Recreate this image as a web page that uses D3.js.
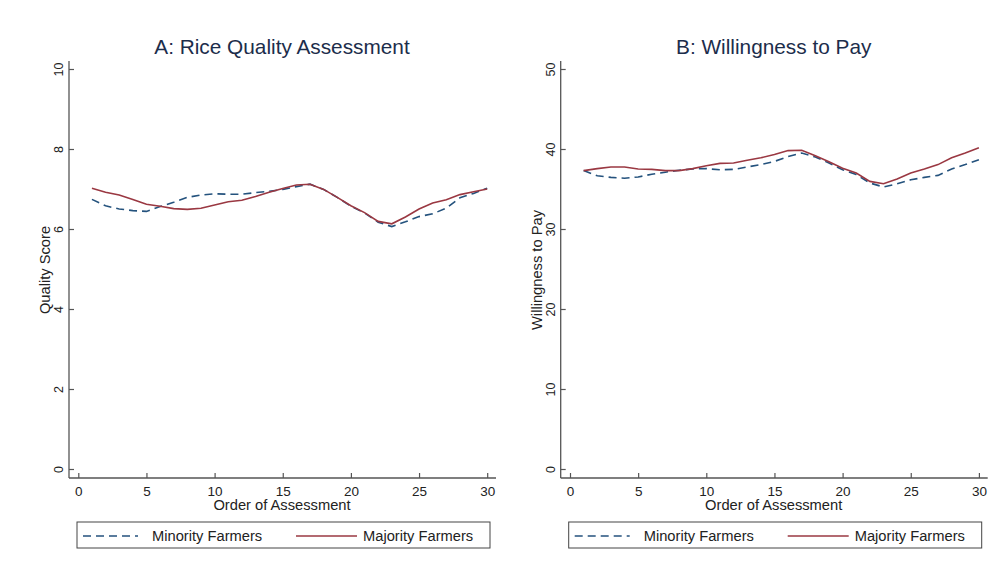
<!DOCTYPE html>
<html>
<head>
<meta charset="utf-8">
<script src="https://cdn.jsdelivr.net/npm/d3@7"></script>
<style>
  body { margin: 0; background: #fff; }
  svg { font-family: "Liberation Sans", Arial, sans-serif; }
</style>
</head>
<body>
<svg id="chart" width="1003" height="579"></svg>
<script>
// Order of assessment (1..30)
const order = d3.range(1, 31);

// Panel A: quality score
const qualityMinority = [6.74, 6.58, 6.50, 6.46, 6.44, 6.56, 6.67, 6.79, 6.85, 6.88,
  6.87, 6.87, 6.91, 6.94, 6.99, 7.06, 7.12, 6.99, 6.79, 6.57,
  6.40, 6.17, 6.06, 6.18, 6.31, 6.38, 6.52, 6.78, 6.89, 7.02];
const qualityMajority = [7.02, 6.92, 6.85, 6.74, 6.62, 6.57, 6.51, 6.49, 6.52, 6.60,
  6.68, 6.72, 6.81, 6.92, 7.01, 7.10, 7.12, 6.99, 6.79, 6.58,
  6.41, 6.19, 6.13, 6.30, 6.50, 6.65, 6.73, 6.86, 6.93, 7.00];

// Panel B: willingness to pay
const wtpMinority = [37.3, 36.65, 36.45, 36.35, 36.5, 36.85, 37.1, 37.35, 37.5, 37.55,
  37.4, 37.45, 37.75, 38.05, 38.45, 39.05, 39.5, 39.0, 38.25, 37.4,
  36.8, 35.75, 35.25, 35.65, 36.15, 36.45, 36.7, 37.5, 38.05, 38.65];
const wtpMajority = [37.3, 37.55, 37.75, 37.75, 37.5, 37.45, 37.3, 37.3, 37.55, 37.9,
  38.2, 38.25, 38.6, 38.9, 39.3, 39.8, 39.85, 39.15, 38.4, 37.6,
  37.0, 35.95, 35.65, 36.25, 37.0, 37.5, 38.05, 38.9, 39.5, 40.15];

const xTicks = [0, 5, 10, 15, 20, 25, 30];
const qualityTicks = [0, 2, 4, 6, 8, 10];
const wtpTicks = [0, 10, 20, 30, 40, 50];
const seriesNames = ["Minority Farmers", "Majority Farmers"];

const colMinority = "#24527d";
const colMajority = "#9a3842";
const titleColor = "#1c2d4b";
const axisColor = "#555";

const svg = d3.select("#chart");

function drawPanel(offsetX, title, yLabel, yMax, yTicks, minority, majority) {
  const g = svg.append("g").attr("transform", `translate(${offsetX},0)`);

  const x = d3.scaleLinear().domain([0, 30]).range([78.3, 487.2]);
  const y = d3.scaleLinear().domain([0, yMax]).range([469, 69]);

  // axis lines (offset from plot region like Stata)
  g.append("line")
    .attr("x1", 69).attr("x2", 69).attr("y1", 61).attr("y2", 478)
    .attr("stroke", axisColor).attr("stroke-width", 1.3);
  g.append("line")
    .attr("x1", 69).attr("x2", 496).attr("y1", 478).attr("y2", 478)
    .attr("stroke", axisColor).attr("stroke-width", 1.3);

  // y axis ticks, rotated labels
  const yAxis = g.append("g")
    .attr("transform", "translate(69,0)")
    .call(d3.axisLeft(y).tickValues(yTicks).tickSize(-5).tickPadding(6));
  yAxis.select(".domain").remove();
  yAxis.selectAll(".tick line").attr("stroke", axisColor).attr("stroke-width", 1.2);
  yAxis.selectAll(".tick text")
    .attr("x", null).attr("dy", null)
    .attr("transform", "translate(-6,0) rotate(-90)")
    .attr("text-anchor", "middle")
    .attr("fill", "#222")
    .style("font-size", "12.5px");

  // x axis ticks
  const xAxis = g.append("g")
    .attr("transform", "translate(0,478)")
    .call(d3.axisBottom(x).tickValues(xTicks).tickSize(-5).tickPadding(8));
  xAxis.select(".domain").remove();
  xAxis.selectAll(".tick line").attr("stroke", axisColor).attr("stroke-width", 1.2);
  xAxis.selectAll(".tick text")
    .attr("fill", "#222")
    .style("font-size", "13.5px");

  // titles
  g.append("text")
    .attr("x", 282).attr("y", 54)
    .attr("text-anchor", "middle")
    .attr("fill", titleColor)
    .style("font-size", "20.8px")
    .text(title);

  g.append("text")
    .attr("x", 282).attr("y", 510)
    .attr("text-anchor", "middle")
    .attr("fill", "#222")
    .style("font-size", "14.7px")
    .text("Order of Assessment");

  g.append("text")
    .attr("transform", "translate(50,270) rotate(-90)")
    .attr("text-anchor", "middle")
    .attr("fill", "#222")
    .style("font-size", "14.7px")
    .text(yLabel);

  // lines
  const line = d3.line().x((d, i) => x(order[i])).y(d => y(d));

  g.append("path")
    .datum(minority)
    .attr("d", line)
    .attr("fill", "none")
    .attr("stroke", colMinority)
    .attr("stroke-width", 1.6)
    .attr("stroke-dasharray", "8,5");

  g.append("path")
    .datum(majority)
    .attr("d", line)
    .attr("fill", "none")
    .attr("stroke", colMajority)
    .attr("stroke-width", 1.6);

  // legend
  const lg = g.append("g");
  lg.append("rect")
    .attr("x", 77).attr("y", 522).attr("width", 413).attr("height", 26)
    .attr("fill", "#fff").attr("stroke", "#444").attr("stroke-width", 1);

  lg.append("line")
    .attr("x1", 83).attr("x2", 138).attr("y1", 536).attr("y2", 536)
    .attr("stroke", colMinority).attr("stroke-width", 1.6)
    .attr("stroke-dasharray", "8,5");
  lg.append("text")
    .attr("x", 152).attr("y", 541)
    .attr("fill", "#222").style("font-size", "14.7px")
    .text(seriesNames[0]);

  lg.append("line")
    .attr("x1", 296).attr("x2", 357).attr("y1", 536).attr("y2", 536)
    .attr("stroke", colMajority).attr("stroke-width", 1.6);
  lg.append("text")
    .attr("x", 363).attr("y", 541)
    .attr("fill", "#222").style("font-size", "14.7px")
    .text(seriesNames[1]);
}

drawPanel(0, "A: Rice Quality Assessment", "Quality Score", 10, qualityTicks,
  qualityMinority, qualityMajority);
drawPanel(491.7, "B: Willingness to Pay", "Willingness to Pay", 50, wtpTicks,
  wtpMinority, wtpMajority);
</script>
</body>
</html>
